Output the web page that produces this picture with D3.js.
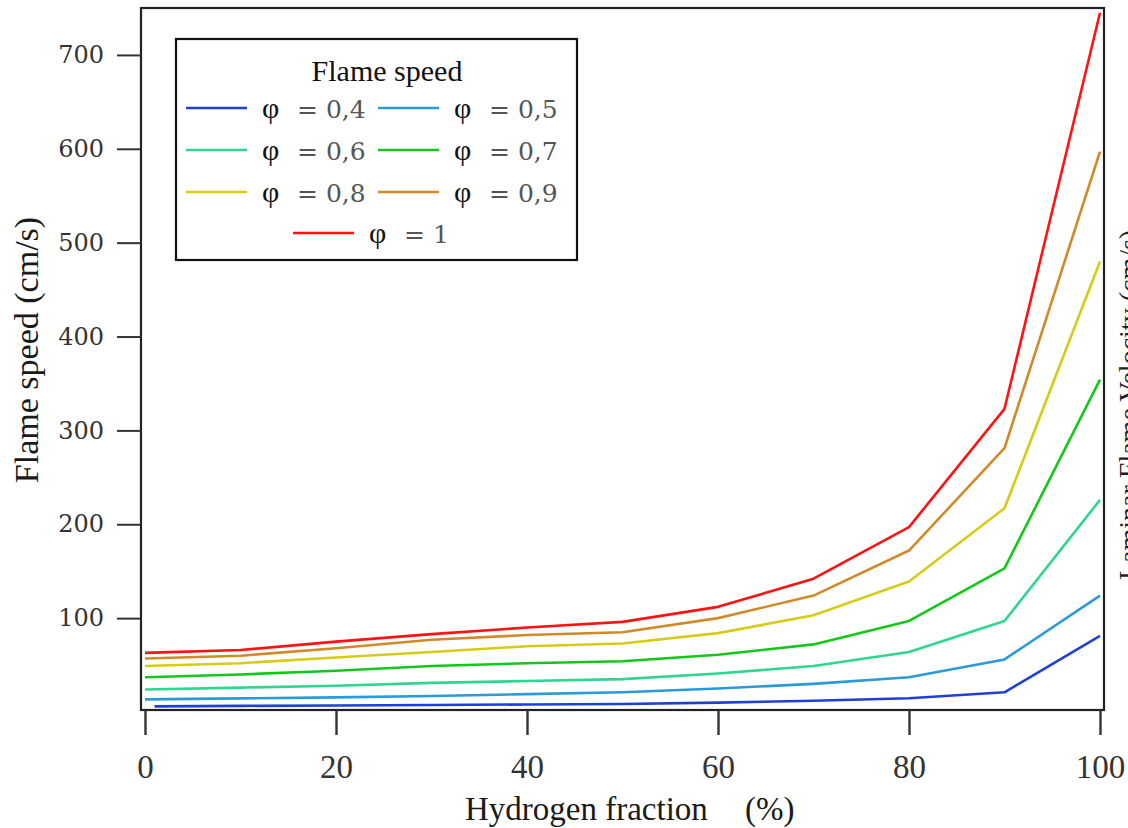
<!DOCTYPE html>
<html>
<head>
<meta charset="utf-8">
<script src="https://cdn.jsdelivr.net/npm/d3@7"></script>
<style>
  body { margin: 0; background: #fff; }
  svg { display: block; }
</style>
</head>
<body>
<div id="chart"></div>
<script>
// Data
const hydrogen = [0, 10, 20, 30, 40, 50, 60, 70, 80, 90, 100];
const hydrogenLean = [1, 10, 20, 30, 40, 50, 60, 70, 80, 90, 100];
const phiLabels = ["0,4", "0,5", "0,6", "0,7", "0,8", "0,9", "1"];
const speed04 = [6, 6.5, 7, 7.5, 8, 8.5, 10, 12, 14.6, 21, 81];
const speed05 = [13.5, 14.5, 15.6, 17, 19, 21, 25, 30, 37, 56, 124];
const speed06 = [24, 26, 28, 31, 33, 35, 41, 49, 64, 97, 226];
const speed07 = [37, 40, 44, 49, 52, 54, 61, 72, 97, 153, 354];
const speed08 = [49, 52, 58, 64, 70, 73, 84, 103, 139, 217, 480];
const speed09 = [57, 60, 68, 77, 82, 85, 100, 124, 172, 281, 597];
const speed10 = [63, 66, 75, 83, 90, 96, 112, 142, 197, 323, 745];
const xTicks = [0, 20, 40, 60, 80, 100];
const yTicks = [100, 200, 300, 400, 500, 600, 700];

const colors = ["#1f40d4", "#2a9bd8", "#2fd68e", "#14c81a", "#d6cc18", "#d08a2a", "#ff1212"];

const series = [
    {label: phiLabels[0], xs: hydrogenLean, ys: speed04},
    {label: phiLabels[1], xs: hydrogen, ys: speed05},
    {label: phiLabels[2], xs: hydrogen, ys: speed06},
    {label: phiLabels[3], xs: hydrogen, ys: speed07},
    {label: phiLabels[4], xs: hydrogen, ys: speed08},
    {label: phiLabels[5], xs: hydrogen, ys: speed09},
    {label: phiLabels[6], xs: hydrogen, ys: speed10}
];

const W = 1128, H = 828;
const frame = {left: 141, right: 1104, top: 8, bottom: 710};
const serif = "'Liberation Serif', 'Times New Roman', serif";

const svg = d3.select("#chart")
    .append("svg")
    .attr("width", W)
    .attr("height", H);

// Scales
const x = d3.scaleLinear().domain([0, 100]).range([145, 1100]);
const y = d3.scaleLinear().domain([0, 750]).range([712, 8]);

// Lines
const line = d3.line()
    .x(d => x(d[0]))
    .y(d => y(d[1]));

series.forEach((s, i) => {
    svg.append("path")
        .datum(s.xs.map((v, k) => [v, s.ys[k]]))
        .attr("fill", "none")
        .attr("stroke", colors[i])
        .attr("stroke-width", 2.6)
        .attr("stroke-linejoin", "round")
        .attr("d", line);
});

// Frame
svg.append("rect")
    .attr("x", frame.left)
    .attr("y", frame.top)
    .attr("width", frame.right - frame.left)
    .attr("height", frame.bottom - frame.top)
    .attr("fill", "none")
    .attr("stroke", "#222")
    .attr("stroke-width", 2.2);

// Left axis
const yAxis = svg.append("g")
    .attr("transform", `translate(${frame.left},0)`)
    .call(d3.axisLeft(y).tickValues(yTicks).tickSize(24).tickPadding(13));
yAxis.select(".domain").remove();
yAxis.selectAll("line").attr("stroke", "#333").attr("stroke-width", 2);
yAxis.selectAll("text")
    .attr("fill", "#333")
    .attr("font-family", "'DejaVu Serif', serif")
    .attr("font-size", 24);

// Bottom axis
const xAxis = svg.append("g")
    .attr("transform", `translate(0,${frame.bottom})`)
    .call(d3.axisBottom(x).tickValues(xTicks).tickSize(25).tickPadding(20));
xAxis.select(".domain").remove();
xAxis.selectAll("line").attr("stroke", "#333").attr("stroke-width", 2.4);
xAxis.selectAll("text")
    .attr("fill", "#333")
    .attr("font-family", serif)
    .attr("font-size", 33);

// Axis labels
svg.append("text")
    .attr("x", 465)
    .attr("y", 820)
    .attr("fill", "#1a1a1a")
    .attr("font-family", serif)
    .attr("font-size", 33)
    .text("Hydrogen fraction");

svg.append("text")
    .attr("x", 745)
    .attr("y", 820)
    .attr("fill", "#1a1a1a")
    .attr("font-family", serif)
    .attr("font-size", 33)
    .text("(%)");

svg.append("text")
    .attr("transform", "translate(38,350) rotate(-90)")
    .attr("text-anchor", "middle")
    .attr("fill", "#1a1a1a")
    .attr("font-family", serif)
    .attr("font-size", 34)
    .text("Flame speed (cm/s)");

// Label cut off at the right edge, as in the original
svg.append("text")
    .attr("transform", "translate(1138,580) rotate(-90)")
    .attr("fill", "#222")
    .attr("font-family", serif)
    .attr("font-size", 28)
    .text("Laminar Flame Velocity (cm/s)");

// Legend
const legend = svg.append("g");
legend.append("rect")
    .attr("x", 176)
    .attr("y", 39)
    .attr("width", 401)
    .attr("height", 221)
    .attr("fill", "#fff")
    .attr("stroke", "#111")
    .attr("stroke-width", 2.2);

legend.append("text")
    .attr("x", 387)
    .attr("y", 81)
    .attr("text-anchor", "middle")
    .attr("fill", "#111")
    .attr("font-family", serif)
    .attr("font-size", 30)
    .text("Flame speed");

const rowY = [108, 150, 192, 233];
series.forEach((s, i) => {
    const row = Math.floor(i / 2);
    let lx = i % 2 === 0 ? 186 : 378;
    if (i === 6) lx = 293;
    const ly = rowY[row];
    legend.append("line")
        .attr("x1", lx)
        .attr("x2", lx + 61)
        .attr("y1", ly)
        .attr("y2", ly)
        .attr("stroke", colors[i])
        .attr("stroke-width", 2.6);
    legend.append("text")
        .attr("x", lx + 76)
        .attr("y", ly + 10)
        .attr("fill", "#111")
        .attr("font-family", serif)
        .attr("font-size", 30)
        .text("φ");
    legend.append("text")
        .attr("x", lx + 111)
        .attr("y", ly + 10)
        .attr("fill", "#555")
        .attr("font-family", "'DejaVu Serif', serif")
        .attr("font-size", 25)
        .text("= " + s.label);
});
</script>
</body>
</html>
